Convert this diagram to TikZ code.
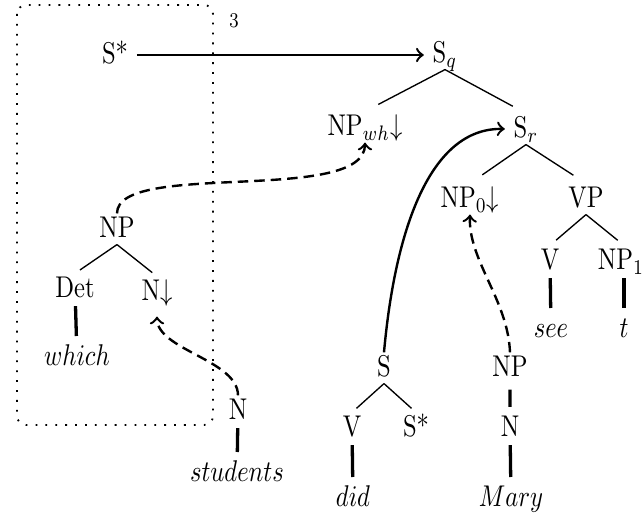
\documentclass[tikz,border=0pt]{standalone}
\usetikzlibrary{arrows}
\begin{document}
\begin{tikzpicture}[x=0.01172cm,y=-0.01172cm,
  lbl/.style={anchor=base,inner sep=1pt,text height=7pt,text depth=1pt,xscale=0.82},
  br/.style={line width=0.45pt,shorten >=#1}, br/.default=2pt,
  un/.style={line width=1.1pt,shorten <=0.5pt,shorten >=1.8pt},
  dsh/.style={->,line width=0.8pt,dash pattern=on 3.5pt off 2pt},
  frame/.style={line width=0.6pt,dash pattern=on 0.6pt off 2.7pt,rounded corners=3pt}]
\useasboundingbox (0,0) rectangle (642,516);
\draw[frame] (17,5) rectangle (213,425);
\node[lbl,font=\scriptsize] (num) at (234,28) {3};
\node[lbl] (SL) at (115,64) {S*};
\node[lbl] (Sq) at (445,63) {S$_q$};
\node[lbl] (NPwh) at (365,136) {NP$_{wh}{\downarrow}$};
\node[lbl] (Sr) at (526,138) {S$_r$};
\node[lbl] (NP0) at (470,208) {NP$_0{\downarrow}$};
\node[lbl] (VP) at (586,208) {VP};
\node[lbl] (V1) at (550,270) {V};
\node[lbl] (NP1) at (621,270) {NP$_1$};
\node[lbl] (see) at (551,338) {$see$};
\node[lbl] (t) at (624,338) {$t$};
\node[lbl] (NPa) at (117,238) {NP};
\node[lbl] (Det) at (75,298) {Det};
\node[lbl] (Nd) at (157,301) {N$\downarrow$};
\node[lbl] (which) at (77,366) {$which$};
\node[lbl] (Na) at (238,420) {N};
\node[lbl] (students) at (237,482) {$students$};
\node[lbl] (S2) at (384,377) {S};
\node[lbl] (V2) at (352,437) {V};
\node[lbl] (S2s) at (416,437) {S*};
\node[lbl] (did) at (353,507) {$did$};
\node[lbl] (NPm) at (510,377) {NP};
\node[lbl] (Nm) at (510,437) {N};
\node[lbl] (Mary) at (511,507) {$Mary$};
\draw[->,line width=0.8pt,shorten <=2pt,shorten >=2pt] (SL.east) -- (Sq.west |- SL.east);
\draw[br=5pt] (Sq.south) -- (NPwh.north);
\draw[br=5pt] (Sq.south) -- (Sr.north);
\draw[br=5pt] (Sr.south) -- (NP0.north);
\draw[br=5pt] (Sr.south) -- (VP.north);
\draw[br=2.7pt] (VP.south) -- (V1.north);
\draw[br=2.7pt] (VP.south) -- (NP1.north -| t);
\draw[un] (V1) -- (see);
\draw[un] (NP1.south -| t) -- (t);
\draw[br] (NPa.south) -- (Det.north);
\draw[br] (NPa.south) -- (Nd.north);
\draw[un] (Det) -- (which);
\draw[un] (Na) -- (students);
\draw[br] (S2.south) -- (V2.north);
\draw[br] (S2.south) -- (S2s.north);
\draw[un] (V2) -- (did);
\draw[un,shorten <=2pt] (NPm) -- (Nm);
\draw[un] (Nm) -- (Mary);
\draw[->,line width=0.8pt] (S2.north) .. controls (395,230) and (430,127) .. ([xshift=-2pt]Sr.west);
\draw[dsh] (NPa.north) .. controls (117,160) and (365,205) .. (NPwh.south);
\draw[dsh] (NPm.north) .. controls (508,300) and (468,260) .. (NP0.south);
\draw[dsh] (Na.north) .. controls (238,360) and (157,350) .. ([yshift=-3pt]Nd.south);
\end{tikzpicture}
\end{document}
